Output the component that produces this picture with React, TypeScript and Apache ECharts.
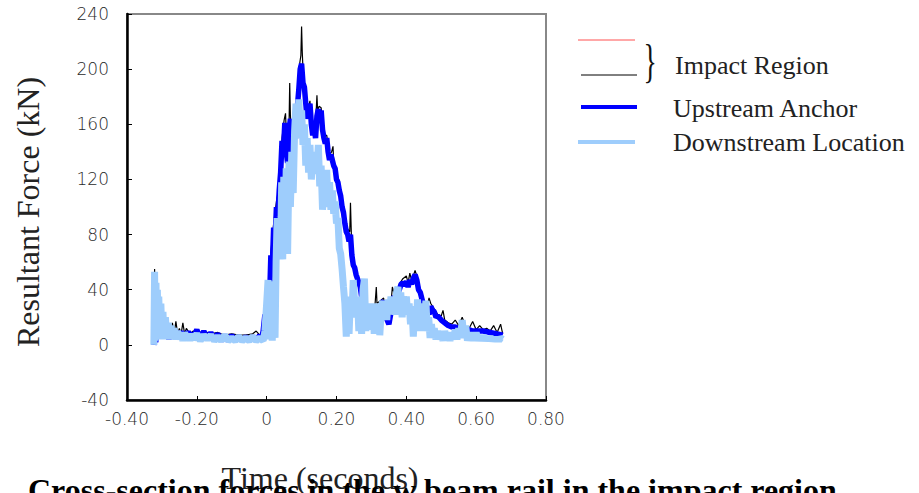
import React, { useEffect, useRef } from "react";
import * as echarts from "echarts";

const yTicks = [-40, 0, 40, 80, 120, 160, 200, 240];
const xTicks = [-0.4, -0.2, 0, 0.2, 0.4, 0.6, 0.8];

const legendNames = ["Impact Region", "Upstream Anchor", "Downstream Location"];

const impactRegion: number[][] = [
  [-0.323, 0], [-0.321, 55], [-0.319, 5], [-0.316, 8], [-0.314, 45], [-0.312, 30], [-0.309, 10], [-0.306, 25],
  [-0.303, 8], [-0.3, 28], [-0.297, 8], [-0.294, 18], [-0.29, 8], [-0.286, 16], [-0.282, 6], [-0.278, 14],
  [-0.274, 6], [-0.27, 16], [-0.265, 8], [-0.26, 17], [-0.255, 8], [-0.25, 12], [-0.245, 8], [-0.24, 16],
  [-0.235, 8], [-0.23, 12], [-0.22, 8], [-0.21, 10], [-0.2, 8], [-0.18, 10], [-0.16, 8], [-0.14, 9],
  [-0.12, 7], [-0.1, 8], [-0.08, 7], [-0.06, 7], [-0.04, 8], [-0.03, 10], [-0.02, 7], [-0.01, 10],
  [-0.005, 22], [0, 8], [0.005, 40], [0.012, 67], [0.02, 88], [0.028, 104], [0.036, 115], [0.044, 150],
  [0.05, 163], [0.054, 168], [0.058, 142], [0.064, 158], [0.066, 190], [0.068, 166], [0.074, 142], [0.08, 162],
  [0.088, 176], [0.094, 203], [0.098, 210], [0.1, 231], [0.102, 212], [0.104, 200], [0.108, 190], [0.112, 180],
  [0.116, 168], [0.12, 172], [0.124, 177], [0.126, 168], [0.13, 158], [0.136, 160], [0.14, 160], [0.144, 181],
  [0.146, 170], [0.15, 173], [0.156, 172], [0.16, 160], [0.166, 152], [0.172, 152], [0.18, 138], [0.186, 140],
  [0.19, 144], [0.192, 132], [0.2, 124], [0.206, 120], [0.21, 115], [0.216, 104], [0.22, 98], [0.226, 90],
  [0.232, 84], [0.238, 82], [0.24, 103], [0.242, 85], [0.244, 67], [0.25, 60], [0.26, 50], [0.27, 44],
  [0.276, 30], [0.284, 18], [0.29, 16], [0.3, 27], [0.31, 28], [0.314, 42], [0.316, 30], [0.33, 33],
  [0.335, 34], [0.34, 24], [0.35, 18], [0.358, 36], [0.36, 42], [0.365, 37], [0.375, 40], [0.38, 44],
  [0.39, 48], [0.4, 50], [0.405, 45], [0.41, 52], [0.415, 47], [0.42, 50], [0.425, 54], [0.43, 50],
  [0.44, 40], [0.45, 30], [0.46, 28], [0.465, 34], [0.47, 30], [0.48, 26], [0.49, 22], [0.5, 21],
  [0.505, 25], [0.51, 18], [0.52, 16], [0.53, 15], [0.54, 18], [0.55, 14], [0.56, 20], [0.57, 13],
  [0.58, 12], [0.59, 17], [0.6, 11], [0.61, 14], [0.62, 11], [0.63, 12], [0.64, 10], [0.65, 14],
  [0.66, 9], [0.67, 15], [0.676, 8],
];

const upstreamAnchor: number[][] = [
  [-0.323, 0], [-0.321, 5], [-0.318, 2], [-0.315, 6], [-0.312, 35], [-0.309, 8], [-0.306, 25], [-0.303, 5],
  [-0.3, 20], [-0.297, 6], [-0.294, 15], [-0.29, 5], [-0.285, 13], [-0.28, 4], [-0.275, 12], [-0.27, 5],
  [-0.265, 11], [-0.26, 4], [-0.255, 10], [-0.25, 5], [-0.245, 10], [-0.24, 4], [-0.235, 9], [-0.23, 5],
  [-0.225, 10], [-0.22, 4], [-0.215, 9], [-0.21, 5], [-0.2, 11], [-0.19, 4], [-0.18, 10], [-0.17, 4],
  [-0.16, 9], [-0.15, 4], [-0.14, 8], [-0.13, 3], [-0.12, 7], [-0.11, 3], [-0.1, 7], [-0.09, 3],
  [-0.08, 6], [-0.07, 3], [-0.06, 6], [-0.05, 3], [-0.04, 6], [-0.03, 3], [-0.02, 7], [-0.015, 4],
  [-0.01, 10], [-0.005, 22], [0, 8], [0.004, 40], [0.008, 30], [0.012, 65], [0.016, 55], [0.02, 85],
  [0.024, 75], [0.028, 100], [0.032, 93], [0.036, 112], [0.04, 125], [0.044, 148], [0.048, 140], [0.052, 161],
  [0.056, 140], [0.06, 132], [0.064, 155], [0.068, 164], [0.072, 140], [0.076, 134], [0.08, 160], [0.084, 150],
  [0.088, 173], [0.092, 185], [0.096, 200], [0.1, 204], [0.104, 190], [0.108, 187], [0.112, 175], [0.116, 164],
  [0.12, 170], [0.124, 175], [0.128, 160], [0.132, 152], [0.136, 158], [0.14, 150], [0.144, 166], [0.148, 171],
  [0.152, 165], [0.156, 170], [0.16, 156], [0.164, 150], [0.168, 146], [0.172, 150], [0.176, 140], [0.18, 134],
  [0.184, 138], [0.188, 134], [0.192, 130], [0.196, 128], [0.2, 120], [0.204, 118], [0.208, 112], [0.212, 108],
  [0.216, 100], [0.22, 96], [0.224, 88], [0.228, 82], [0.232, 80], [0.236, 75], [0.24, 80], [0.244, 65],
  [0.248, 58], [0.252, 56], [0.256, 51], [0.26, 48], [0.264, 45], [0.268, 42], [0.272, 35], [0.276, 28],
  [0.28, 22], [0.284, 15], [0.288, 13], [0.292, 18], [0.296, 22], [0.3, 25], [0.305, 20], [0.31, 26],
  [0.315, 24], [0.32, 28], [0.325, 25], [0.33, 30], [0.335, 32], [0.34, 22], [0.345, 18], [0.35, 15],
  [0.355, 22], [0.36, 32], [0.365, 35], [0.37, 33], [0.375, 38], [0.38, 40], [0.385, 44], [0.39, 45],
  [0.395, 43], [0.4, 46], [0.405, 42], [0.41, 47], [0.415, 44], [0.42, 48], [0.425, 51], [0.43, 47],
  [0.435, 40], [0.44, 38], [0.445, 33], [0.45, 28], [0.455, 24], [0.46, 26], [0.465, 22], [0.47, 28],
  [0.475, 25], [0.48, 24], [0.485, 20], [0.49, 21], [0.5, 18], [0.51, 16], [0.52, 14], [0.53, 13],
  [0.54, 13], [0.55, 12], [0.56, 12], [0.57, 11], [0.58, 11], [0.59, 10], [0.6, 10], [0.62, 10],
  [0.64, 9], [0.66, 8], [0.676, 7],
];

const downstreamLocation: number[][] = [
  [-0.323, 0], [-0.321, 53], [-0.319, 3], [-0.317, 45], [-0.315, 4], [-0.313, 40], [-0.311, 5], [-0.309, 35],
  [-0.306, 4], [-0.303, 30], [-0.3, 5], [-0.297, 24], [-0.294, 4], [-0.29, 20], [-0.286, 5], [-0.282, 16],
  [-0.278, 4], [-0.274, 14], [-0.27, 5], [-0.265, 12], [-0.26, 4], [-0.255, 10], [-0.25, 4], [-0.245, 9],
  [-0.24, 3], [-0.235, 9], [-0.23, 4], [-0.225, 8], [-0.22, 3], [-0.215, 8], [-0.21, 4], [-0.2, 8],
  [-0.19, 3], [-0.18, 7], [-0.17, 4], [-0.16, 7], [-0.15, 3], [-0.14, 6], [-0.13, 3], [-0.12, 7],
  [-0.11, 3], [-0.1, 5], [-0.09, 3], [-0.08, 6], [-0.07, 3], [-0.06, 5], [-0.05, 3], [-0.04, 6],
  [-0.03, 3], [-0.02, 5], [-0.01, 3], [-0.005, 10], [0, 30], [0.004, 47], [0.008, 4], [0.012, 46],
  [0.016, 3], [0.02, 40], [0.024, 5], [0.027, 60], [0.03, 92], [0.033, 62], [0.036, 90], [0.04, 70],
  [0.043, 118], [0.046, 62], [0.049, 122], [0.052, 66], [0.056, 128], [0.06, 66], [0.064, 133], [0.068, 100],
  [0.072, 140], [0.076, 110], [0.08, 155], [0.084, 175], [0.088, 150], [0.092, 178], [0.096, 155], [0.1, 170],
  [0.104, 145], [0.108, 160], [0.112, 130], [0.116, 150], [0.12, 125], [0.124, 145], [0.128, 120], [0.132, 138],
  [0.136, 124], [0.14, 140], [0.144, 126], [0.148, 145], [0.152, 115], [0.156, 130], [0.16, 98], [0.164, 125],
  [0.168, 105], [0.172, 127], [0.176, 100], [0.18, 118], [0.184, 98], [0.188, 112], [0.192, 95], [0.196, 104],
  [0.2, 88], [0.204, 92], [0.208, 70], [0.212, 66], [0.216, 55], [0.22, 42], [0.224, 30], [0.228, 6],
  [0.232, 30], [0.236, 8], [0.24, 35], [0.244, 20], [0.248, 47], [0.252, 30], [0.256, 20], [0.26, 35],
  [0.264, 10], [0.268, 25], [0.272, 8], [0.276, 40], [0.28, 48], [0.284, 10], [0.288, 30], [0.292, 11],
  [0.296, 28], [0.3, 15], [0.304, 30], [0.308, 8], [0.312, 25], [0.316, 12], [0.32, 30], [0.324, 7],
  [0.328, 25], [0.332, 32], [0.336, 18], [0.34, 30], [0.344, 18], [0.348, 33], [0.352, 22], [0.356, 35],
  [0.36, 25], [0.364, 30], [0.368, 22], [0.372, 38], [0.376, 42], [0.38, 25], [0.384, 38], [0.388, 20],
  [0.392, 35], [0.396, 30], [0.4, 35], [0.404, 22], [0.408, 30], [0.412, 15], [0.416, 28], [0.42, 6],
  [0.424, 25], [0.428, 10], [0.432, 33], [0.436, 18], [0.44, 28], [0.444, 10], [0.448, 30], [0.452, 15],
  [0.456, 32], [0.46, 10], [0.464, 20], [0.468, 5], [0.472, 15], [0.476, 5], [0.48, 12], [0.485, 4],
  [0.49, 10], [0.495, 4], [0.5, 9], [0.505, 3], [0.51, 10], [0.515, 4], [0.52, 8], [0.525, 3],
  [0.53, 9], [0.535, 4], [0.54, 11], [0.545, 4], [0.55, 12], [0.555, 5], [0.56, 18], [0.565, 6],
  [0.57, 14], [0.575, 3], [0.58, 9], [0.585, 3], [0.59, 8], [0.595, 3], [0.6, 9], [0.605, 3],
  [0.61, 7], [0.615, 3], [0.62, 7], [0.625, 3], [0.63, 6], [0.635, 3], [0.64, 6], [0.645, 3],
  [0.65, 5], [0.655, 3], [0.66, 5], [0.665, 3], [0.67, 5], [0.676, 4],
];

const SERIF = "'Liberation Serif', 'Times New Roman', serif";
const SANS = "'DejaVu Sans', sans-serif";

export default function App() {
  const ref = useRef<HTMLDivElement>(null);
  useEffect(() => {
    const chart = echarts.init(ref.current!, null, { renderer: "svg" });
    const fmtX = (v: number) => (Math.abs(v) < 1e-9 ? "0" : v.toFixed(2));
    chart.setOption({
      animation: false,
      backgroundColor: "#ffffff",
      grid: {
        left: 127,
        top: 14,
        right: 373,
        bottom: 93,
        show: true,
        borderColor: "#888888",
        borderWidth: 2,
      },
      xAxis: {
        type: "value",
        min: xTicks[0],
        max: xTicks[xTicks.length - 1],
        interval: 0.2,
        axisLine: { show: true, onZero: false, lineStyle: { color: "#000", width: 2.5 } },
        axisTick: { show: true, inside: true, length: 4, lineStyle: { color: "#000", width: 1 } },
        splitLine: { show: false },
        axisLabel: {
          margin: 10,
          fontFamily: SANS,
          fontWeight: 200,
          fontSize: 17,
          color: "#2a2a2a",
          formatter: fmtX,
        },
      },
      yAxis: {
        type: "value",
        min: yTicks[0],
        max: yTicks[yTicks.length - 1],
        interval: 40,
        axisLine: { show: true, onZero: false, lineStyle: { color: "#000", width: 2.5 } },
        axisTick: { show: true, inside: true, length: 5, lineStyle: { color: "#000", width: 1 } },
        splitLine: { show: false },
        axisLabel: {
          margin: 18,
          fontFamily: SANS,
          fontWeight: 200,
          fontSize: 17,
          color: "#2a2a2a",
        },
      },
      series: [
        {
          name: legendNames[0],
          type: "line",
          data: impactRegion,
          symbol: "none",
          lineStyle: { color: "#000000", width: 1.2 },
          z: 2,
        },
        {
          name: legendNames[1],
          type: "line",
          data: upstreamAnchor,
          symbol: "none",
          lineStyle: { color: "#0000ff", width: 5.5 },
          z: 3,
        },
        {
          name: legendNames[2],
          type: "line",
          data: downstreamLocation,
          symbol: "none",
          lineStyle: { color: "#9ecdfc", width: 7 },
          z: 4,
        },
      ],
      graphic: [
        { type: "line", shape: { x1: 578, y1: 40, x2: 635, y2: 40 }, style: { stroke: "#ff5050", lineWidth: 1 } },
        { type: "line", shape: { x1: 581, y1: 75, x2: 637, y2: 75 }, style: { stroke: "#000", lineWidth: 1 } },
        {
          type: "text",
          x: 650,
          y: 61,
          scaleX: 0.6,
          style: { text: "}", font: `46px ${SERIF}`, fill: "#111", align: "center", verticalAlign: "middle" },
        },
        {
          type: "text",
          x: 675,
          y: 65,
          style: { text: legendNames[0], font: `26px ${SERIF}`, fill: "#222", align: "left", verticalAlign: "middle" },
        },
        { type: "line", shape: { x1: 581, y1: 107, x2: 637, y2: 107 }, style: { stroke: "#0000ff", lineWidth: 4 } },
        {
          type: "text",
          x: 673,
          y: 108,
          style: { text: legendNames[1], font: `26px ${SERIF}`, fill: "#222", align: "left", verticalAlign: "middle" },
        },
        { type: "line", shape: { x1: 578, y1: 142, x2: 635, y2: 142 }, style: { stroke: "#9ecdfc", lineWidth: 4 } },
        {
          type: "text",
          x: 673,
          y: 142,
          style: { text: legendNames[2], font: `26px ${SERIF}`, fill: "#222", align: "left", verticalAlign: "middle" },
        },
        {
          type: "text",
          x: 28,
          y: 212,
          rotation: Math.PI / 2,
          style: { text: "Resultant Force (kN)", font: `32px ${SERIF}`, fill: "#222", align: "center", verticalAlign: "middle" },
        },
        {
          type: "text",
          x: 320,
          y: 478,
          style: { text: "Time (seconds)", font: `32px ${SERIF}`, fill: "#222", align: "center", verticalAlign: "middle" },
        },
        {
          type: "text",
          x: 28,
          y: 490,
          style: {
            text: "Cross-section forces in the w beam rail in the impact region",
            font: `bold 32px ${SERIF}`,
            fill: "#000",
            align: "left",
            verticalAlign: "middle",
          },
        },
      ],
    });
    return () => chart.dispose();
  }, []);
  return (
    <div
      ref={ref}
      style={{ position: "absolute", left: 0, top: 0, width: 919, height: 493, background: "#fff" }}
    />
  );
}
